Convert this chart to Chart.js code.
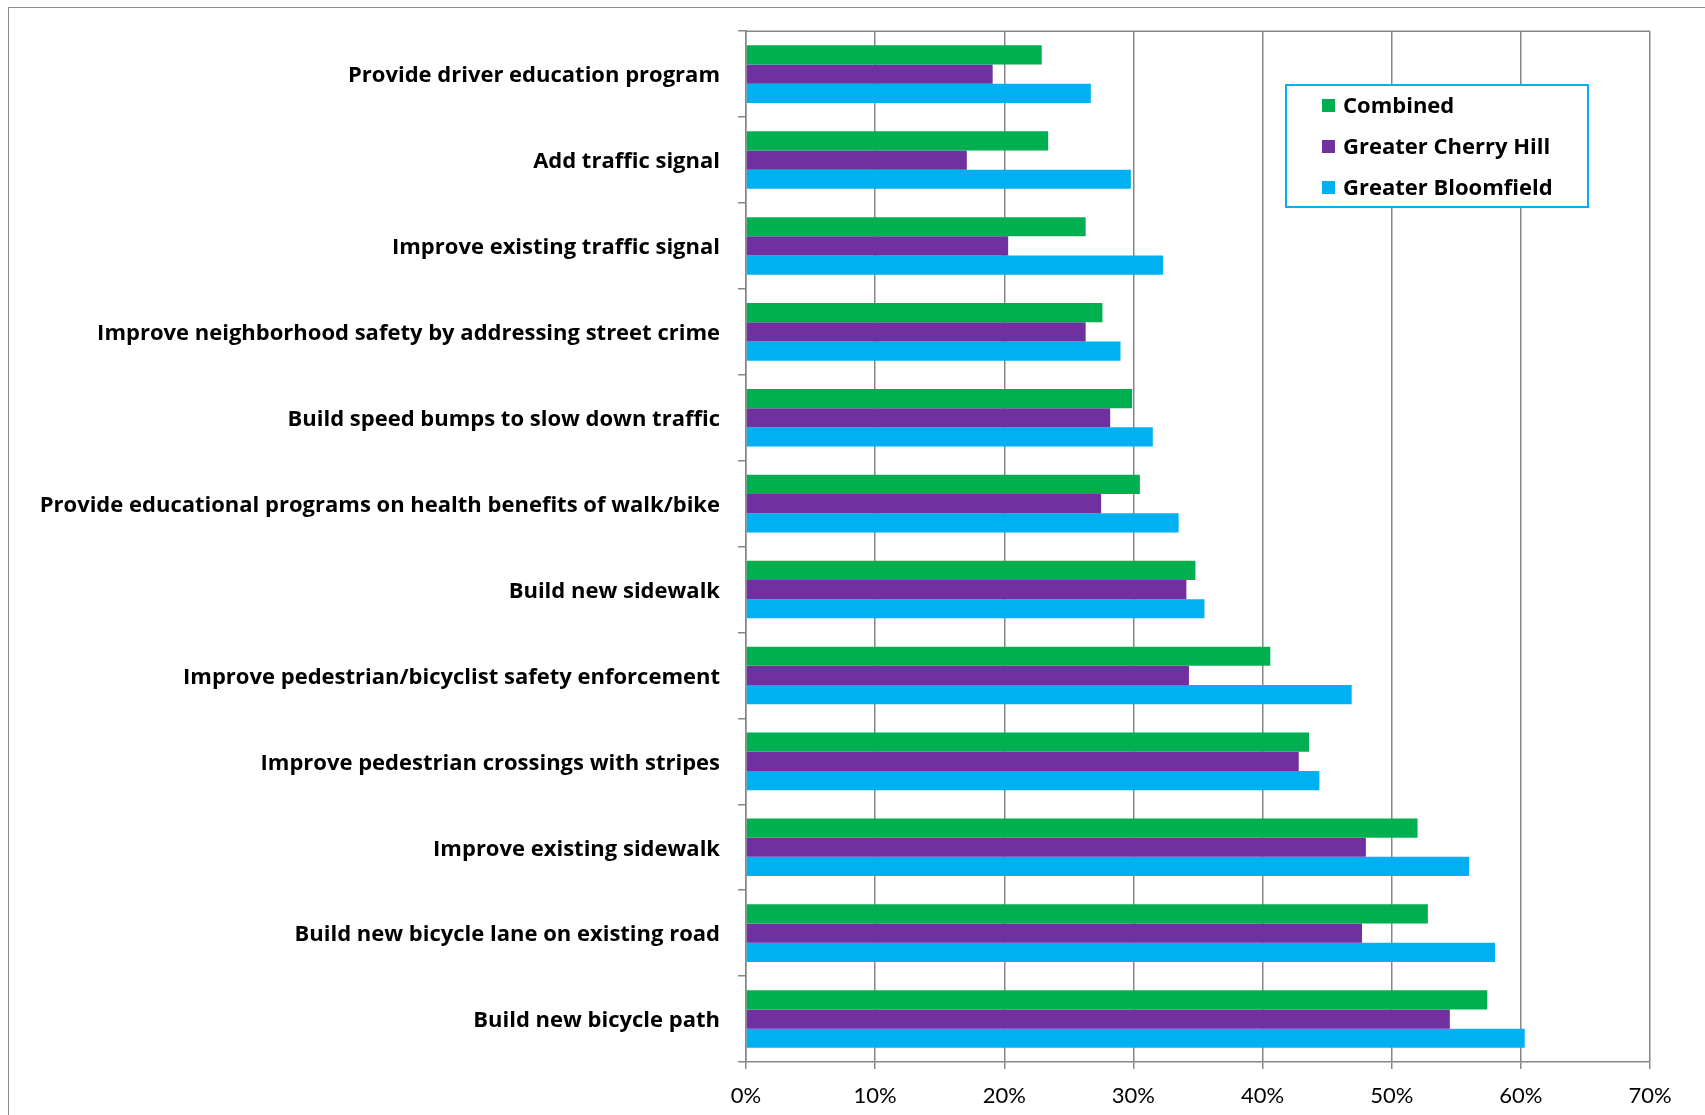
<!DOCTYPE html>
<html>
<head>
<meta charset="utf-8">
<title>Walk/bike improvement priorities</title>
<script src="https://cdn.jsdelivr.net/npm/chart.js@4.4.0/dist/chart.umd.min.js"></script>
<style>
  html, body { margin: 0; padding: 0; background: #fff; overflow: hidden; }
  #wrap { position: relative; width: 1705px; height: 1115px; }
  #frame {
    position: absolute; left: 8px; top: 7px; width: 1720px; height: 1130px;
    border: 1.5px solid #8c8c8c; box-sizing: border-box;
  }
  #myChart { position: absolute; left: 0; top: 0; }
</style>
</head>
<body>
<div id="wrap">
  <div id="frame"></div>
  <canvas id="myChart" width="1705" height="1115"></canvas>
</div>
<script>
// survey answers, listed top to bottom
const categories = [
  'Provide driver education program',
  'Add traffic signal',
  'Improve existing traffic signal',
  'Improve neighborhood safety by addressing street crime',
  'Build speed bumps to slow down traffic',
  'Provide educational programs on health benefits of walk/bike',
  'Build new sidewalk',
  'Improve pedestrian/bicyclist safety enforcement',
  'Improve pedestrian crossings with stripes',
  'Improve existing sidewalk',
  'Build new bicycle lane on existing road',
  'Build new bicycle path',
];

// percent of respondents
const combined = [22.9, 23.4, 26.3, 27.6, 29.9, 30.5, 34.8, 40.6, 43.6, 52.0, 52.8, 57.4];
const cherryHill = [19.1, 17.1, 20.3, 26.3, 28.2, 27.5, 34.1, 34.3, 42.8, 48.0, 47.7, 54.5];
const bloomfield = [26.7, 29.8, 32.3, 29.0, 31.5, 33.5, 35.5, 46.9, 44.4, 56.0, 58.0, 60.3];

const seriesNames = ['Combined', 'Greater Cherry Hill', 'Greater Bloomfield'];
const seriesColors = ['#00b050', '#7030a0', '#00b0f0'];

const xMin = 0;
const xMax = 70;
const xStep = 10;

const labelFont = { family: "'Open Sans'", size: 22, weight: 'bold' };
const gridColor = '#868686';

// legend box floating inside the plot, plus the top edge of the plot frame
const boxLegend = {
  id: 'boxLegend',
  afterDraw(chart) {
    const ctx = chart.ctx;
    const area = chart.chartArea;
    ctx.save();
    ctx.strokeStyle = gridColor;
    ctx.lineWidth = 1.5;
    ctx.beginPath();
    ctx.moveTo(area.left, area.top);
    ctx.lineTo(area.right, area.top);
    ctx.stroke();

    const bx = 1286, by = 85, bw = 302, bh = 122;
    ctx.fillStyle = '#fff';
    ctx.fillRect(bx, by, bw, bh);
    ctx.strokeStyle = '#00b0f0';
    ctx.lineWidth = 2;
    ctx.strokeRect(bx, by, bw, bh);

    ctx.font = `bold ${labelFont.size}px ${labelFont.family}`;
    ctx.textBaseline = 'middle';
    ctx.textAlign = 'left';
    chart.data.datasets.forEach((ds, i) => {
      const y = by + 20 + i * 41;
      ctx.fillStyle = ds.backgroundColor;
      ctx.fillRect(bx + 36, y - 6, 13, 13);
      ctx.fillStyle = '#000';
      ctx.fillText(ds.label, bx + 57, y + 2);
    });
    ctx.restore();
  },
};

const data = {
  labels: categories,
  datasets: [combined, cherryHill, bloomfield].map((vals, i) => ({
    label: seriesNames[i],
    data: vals,
    backgroundColor: seriesColors[i],
    borderWidth: 0,
    barPercentage: 1.0,
    categoryPercentage: 0.67,
  })),
};

const config = {
  type: 'bar',
  data: data,
  options: {
    indexAxis: 'y',
    responsive: false,
    animation: false,
    layout: { padding: { left: 0, right: 55, top: 30, bottom: 0 } },
    plugins: {
      legend: { display: false },
      tooltip: { enabled: false },
    },
    scales: {
      x: {
        min: xMin,
        max: xMax,
        ticks: {
          stepSize: xStep,
          color: '#000',
          font: { family: 'Lato', size: 22 },
          padding: 14,
          callback: (v) => v + '%',
        },
        grid: { color: gridColor, lineWidth: 1.5, tickLength: 7 },
        border: { color: gridColor, width: 1.5 },
        afterFit: (scale) => { scale.height = 53; },
      },
      y: {
        ticks: {
          color: '#000',
          font: labelFont,
          padding: 18,
          labelOffset: 2,
          autoSkip: false,
        },
        grid: {
          offset: true,
          drawOnChartArea: false,
          color: gridColor,
          lineWidth: 1.5,
          tickLength: 8,
        },
        border: { color: gridColor, width: 1.5 },
        afterFit: (scale) => { scale.width = 746; },
      },
    },
  },
  plugins: [boxLegend],
};

const myChart = new Chart(document.getElementById('myChart'), config);
</script>
</body>
</html>
